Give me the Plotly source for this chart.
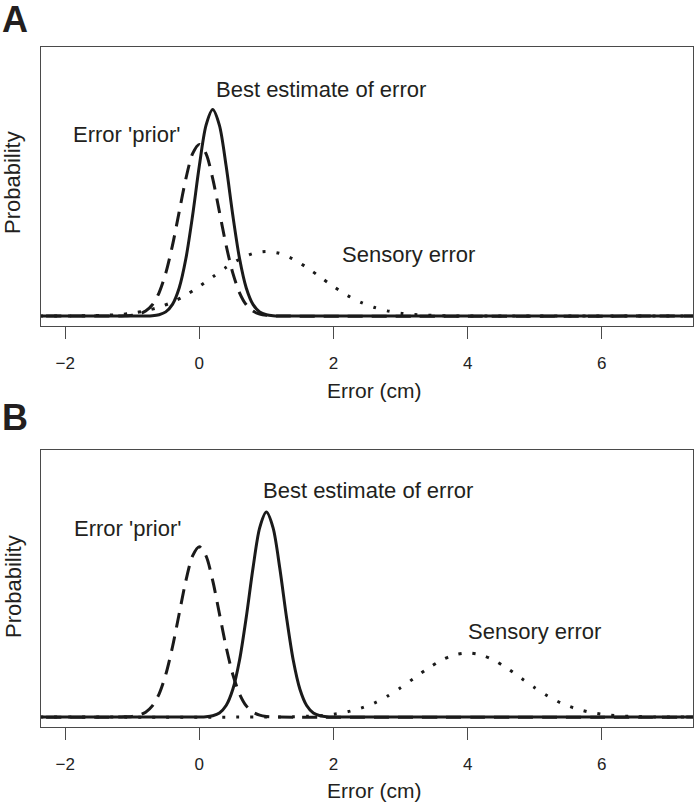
import plotly.graph_objects as go

# ---------------- data ----------------
tick_vals = [-2, 0, 2, 4, 6]
baseline_x = [-3.0, 8.0]          # flat zero tails drawn across the whole frame

# Error 'prior' (dashed) - same in both panels
prior_x = [-1.2, -1.1, -1.0, -0.9, -0.8, -0.7, -0.6, -0.5, -0.4, -0.3, -0.2, -0.1, 0.0,
           0.1, 0.2, 0.3, 0.4, 0.5, 0.6, 0.7, 0.8, 0.9, 1.0, 1.1, 1.2]
prior_y = [0.000, 0.002, 0.005, 0.015, 0.038, 0.087, 0.180, 0.332, 0.547, 0.807, 1.065, 1.258, 1.330,
           1.258, 1.065, 0.807, 0.547, 0.332, 0.180, 0.087, 0.038, 0.015, 0.005, 0.002, 0.000]

# Best estimate of error (solid)
postA_x = [-0.8, -0.7, -0.6, -0.5, -0.4, -0.3, -0.2, -0.1, 0.0, 0.1, 0.2,
           0.3, 0.4, 0.5, 0.6, 0.7, 0.8, 0.9, 1.0, 1.1, 1.2]
postB_x = [0.0, 0.1, 0.2, 0.3, 0.4, 0.5, 0.6, 0.7, 0.8, 0.9, 1.0,
           1.1, 1.2, 1.3, 1.4, 1.5, 1.6, 1.7, 1.8, 1.9, 2.0]
post_y = [0.000, 0.002, 0.010, 0.032, 0.090, 0.217, 0.445, 0.779, 1.162, 1.477, 1.600,
          1.477, 1.162, 0.779, 0.445, 0.217, 0.090, 0.032, 0.010, 0.002, 0.000]

# Sensory error (dotted)
sensA_x = [-2.0, -1.8, -1.6, -1.4, -1.2, -1.0, -0.8, -0.6, -0.4, -0.2, 0.0, 0.2, 0.4, 0.6, 0.8, 1.0,
           1.2, 1.4, 1.6, 1.8, 2.0, 2.2, 2.4, 2.6, 2.8, 3.0, 3.2, 3.4, 3.6, 3.8, 4.0]
sensB_x = [1.0, 1.2, 1.4, 1.6, 1.8, 2.0, 2.2, 2.4, 2.6, 2.8, 3.0, 3.2, 3.4, 3.6, 3.8, 4.0,
           4.2, 4.4, 4.6, 4.8, 5.0, 5.2, 5.4, 5.6, 5.8, 6.0, 6.2, 6.4, 6.6, 6.8, 7.0]
sens_y = [0.000, 0.001, 0.003, 0.006, 0.011, 0.022, 0.040, 0.068, 0.108, 0.162, 0.229, 0.303, 0.377,
          0.441, 0.485, 0.500, 0.485, 0.441, 0.377, 0.303, 0.229, 0.162, 0.108, 0.068, 0.040,
          0.022, 0.011, 0.006, 0.003, 0.001, 0.000]

# label positions (data coords) per panel
labels_A = [("Error 'prior'", -1.08, 1.41), ("Best estimate of error", 1.81, 1.755), ("Sensory error", 3.12, 0.475)]
labels_B = [("Error 'prior'", -1.075, 1.47), ("Best estimate of error", 2.515, 1.765), ("Sensory error", 5.0, 0.668)]

# ---------------- figure ----------------
FONT = "Liberation Sans, Arial, Helvetica, sans-serif"
INK = "#1a1a1a"
FRAME = "#4a4a4a"


def ext(xs, ys):
    return [baseline_x[0]] + list(xs) + [baseline_x[1]], [0.0] + list(ys) + [0.0]


fig = go.Figure()
panels = [
    ("x", "y", postA_x, sensA_x),
    ("x2", "y2", postB_x, sensB_x),
]
for xa, ya, px_, sx_ in panels:
    x, y = ext(prior_x, prior_y)
    fig.add_trace(go.Scatter(x=x, y=y, xaxis=xa, yaxis=ya, mode="lines",
                             line=dict(color=INK, width=3, dash="15px,9px", shape="spline", smoothing=0.8)))
    x, y = ext(sx_, sens_y)
    fig.add_trace(go.Scatter(x=x, y=y, xaxis=xa, yaxis=ya, mode="lines",
                             line=dict(color=INK, width=3, dash="3px,11px", shape="spline", smoothing=0.8)))
    x, y = ext(px_, post_y)
    fig.add_trace(go.Scatter(x=x, y=y, xaxis=xa, yaxis=ya, mode="lines",
                             line=dict(color=INK, width=3, shape="spline", smoothing=0.8)))

W, H = 695, 802
xdom = [41 / W, 693 / W]
ydomA = [1 - 326 / H, 1 - 47 / H]
ydomB = [1 - 727 / H, 1 - 450 / H]

xcommon = dict(range=[-2.36, 7.36], tickvals=tick_vals, ticks="outside", ticklen=12, tickwidth=1.2,
               tickcolor=FRAME, showline=True, mirror=True, linecolor=FRAME, linewidth=1.3,
               showgrid=False, zeroline=False, tickfont=dict(family=FONT, size=17, color="#222"),
               ticklabelstandoff=9, domain=xdom)
ycommon = dict(range=[-0.0775, 2.085], showticklabels=False, ticks="", showline=True, mirror=True,
               linecolor=FRAME, linewidth=1.3, showgrid=False, zeroline=False)

fig.update_layout(
    width=W, height=H, margin=dict(l=0, r=0, t=0, b=0),
    paper_bgcolor="white", plot_bgcolor="white", showlegend=False,
    xaxis=dict(anchor="y", **xcommon),
    yaxis=dict(anchor="x", domain=ydomA, **ycommon),
    xaxis2=dict(anchor="y2", **xcommon),
    yaxis2=dict(anchor="x2", domain=ydomB, **ycommon),
)

ann = []
for labs, xr, yr in [(labels_A, "x", "y"), (labels_B, "x2", "y2")]:
    for t, lx, ly in labs:
        ann.append(dict(text=t, x=lx, y=ly, xref=xr, yref=yr, showarrow=False,
                        xanchor="center", yanchor="middle",
                        font=dict(family=FONT, size=22, color="#231f20")))

# axis titles and panel letters
for ycen_px, xt_px, letter_px, letter in [(183, 390, 19, "A"), (587, 790, 417, "B")]:
    ann.append(dict(text="Probability", x=13 / W, y=1 - ycen_px / H, xref="paper", yref="paper",
                    showarrow=False, textangle=-90, xanchor="center", yanchor="middle",
                    font=dict(family=FONT, size=22, color="#231f20")))
    ann.append(dict(text="Error (cm)", x=374 / W, y=1 - xt_px / H, xref="paper", yref="paper",
                    showarrow=False, xanchor="center", yanchor="middle",
                    font=dict(family=FONT, size=21, color="#231f20")))
    ann.append(dict(text="<b>" + letter + "</b>", x=0, y=1 - letter_px / H, xref="paper", yref="paper",
                    showarrow=False, xanchor="left", yanchor="middle",
                    font=dict(family=FONT, size=36, color="#231f20")))

fig.update_layout(annotations=ann)
fig.write_html("out.html", config={"displayModeBar": False},
               post_script="document.body.style.margin='0';document.body.style.overflow='hidden';")
